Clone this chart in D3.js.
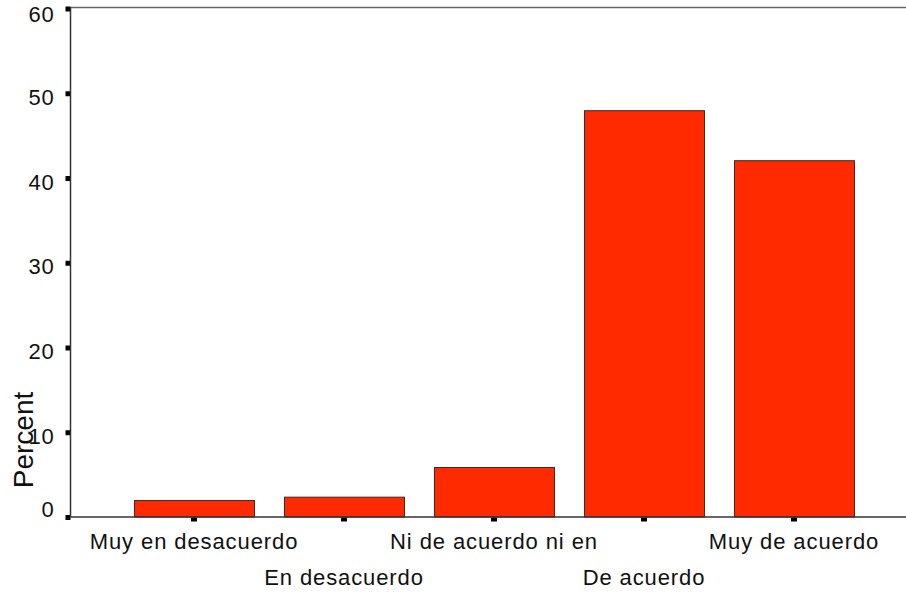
<!DOCTYPE html>
<html>
<head>
<meta charset="utf-8">
<script src="https://cdn.jsdelivr.net/npm/d3@7"></script>
<style>
    body { margin: 0; background: #fff; }
    svg { display: block; font-family: "Liberation Sans", Arial, sans-serif; }
</style>
</head>
<body>
<div id="chart"></div>
<script>
const categories = ["Muy en desacuerdo", "En desacuerdo", "Ni de acuerdo ni en", "De acuerdo", "Muy de acuerdo"];
const percents = [2.0, 2.4, 5.9, 48.0, 42.1];
const yTicks = [0, 10, 20, 30, 40, 50, 60];

const width = 906;
const height = 592;
const plotLeft = 70.5;
const plotRight = 906;
const plotTop = 8;
const plotBottom = 517;

const svg = d3.select("#chart").append("svg")
    .attr("width", width)
    .attr("height", height);

const x = d3.scaleBand()
    .domain(categories)
    .range([119, 869])
    .paddingInner(0.2)
    .paddingOuter(0.1);

const y = d3.scaleLinear()
    .domain([0, 60])
    .range([plotBottom, plotTop + 0.5]);

// frame top line
svg.append("line")
    .attr("x1", plotLeft).attr("x2", plotRight)
    .attr("y1", plotTop - 0.5).attr("y2", plotTop - 0.5)
    .style("stroke", "#666")
    .style("stroke-width", 1.5);

// bars
svg.selectAll(".bar")
    .data(percents)
    .enter().append("rect")
    .attr("class", "bar")
    .attr("x", function (d, i) { return x(categories[i]) + 0.5; })
    .attr("width", x.bandwidth())
    .attr("y", function (d) { return y(d) + 0.5; })
    .attr("height", function (d) { return plotBottom - y(d) - 0.5; })
    .style("fill", "#ff2a00")
    .style("stroke", "#3a2a2a")
    .style("stroke-width", 1);

// y axis
const yAxis = svg.append("g")
    .attr("transform", "translate(" + plotLeft + ",0)")
    .call(d3.axisLeft(y).tickValues(yTicks).tickSize(5).tickPadding(11));
yAxis.select(".domain").remove();
yAxis.selectAll(".tick line")
    .style("stroke", "#000")
    .style("stroke-width", 5);
yAxis.selectAll(".tick text")
    .attr("dy", function (d) { return d === 0 ? "-1" : (d === 60 ? "13" : "11"); })
    .style("font-size", "22px")
    .style("letter-spacing", "0.8px")
    .style("fill", "#111")
    .style("font-family", "'Liberation Sans', Arial, sans-serif");

svg.append("line")
    .attr("x1", plotLeft).attr("x2", plotLeft)
    .attr("y1", plotTop - 1).attr("y2", plotBottom)
    .style("stroke", "#333")
    .style("stroke-width", 1.5);

// x axis
const xAxis = svg.append("g")
    .attr("transform", "translate(0," + plotBottom + ")")
    .call(d3.axisBottom(x).tickSize(4).tickSizeOuter(0));
xAxis.select(".domain").remove();
xAxis.selectAll(".tick line")
    .attr("transform", "translate(0,0.5)")
    .style("stroke", "#000")
    .style("stroke-width", 6);
xAxis.selectAll(".tick text")
    .attr("y", function (d, i) { return i % 2 === 0 ? 32 : 68; })
    .attr("dy", 0)
    .style("font-size", "22px")
    .style("letter-spacing", "0.9px")
    .style("fill", "#111")
    .style("font-family", "'Liberation Sans', Arial, sans-serif");

svg.append("line")
    .attr("x1", plotLeft - 0.5).attr("x2", plotRight)
    .attr("y1", plotBottom).attr("y2", plotBottom)
    .style("stroke", "#333")
    .style("stroke-width", 1.5);

// y title
svg.append("text")
    .attr("transform", "translate(33,440) rotate(-90)")
    .attr("text-anchor", "middle")
    .style("font-size", "28px")
    .style("fill", "#111")
    .text("Percent");
</script>
</body>
</html>
